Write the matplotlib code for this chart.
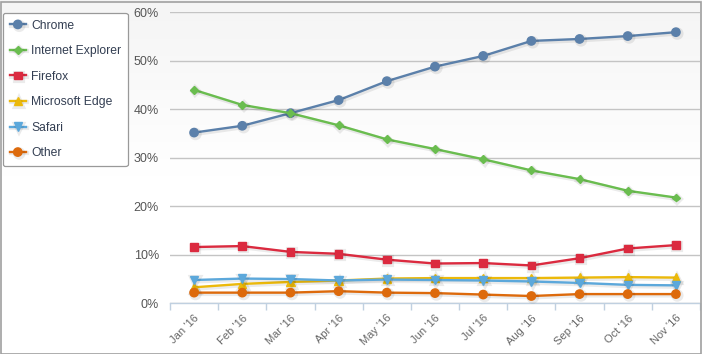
import matplotlib
matplotlib.use("Agg")
import matplotlib.pyplot as plt
import matplotlib.patheffects as pe
import numpy as np
from matplotlib.patches import Rectangle

plt.rcParams["font.family"] = ["Liberation Sans", "DejaVu Sans"]

# data
months = ["Jan '16", "Feb '16", "Mar '16", "Apr '16", "May '16", "Jun '16",
          "Jul '16", "Aug '16", "Sep '16", "Oct '16", "Nov '16"]
chrome = [35.2, 36.6, 39.2, 41.9, 45.8, 48.8, 51.0, 54.1, 54.5, 55.1, 55.9]
ie = [44.0, 40.9, 39.2, 36.7, 33.8, 31.8, 29.7, 27.4, 25.6, 23.2, 21.8]
firefox = [11.6, 11.8, 10.6, 10.2, 9.0, 8.2, 8.3, 7.8, 9.3, 11.3, 12.0]
edge = [3.3, 4.0, 4.4, 4.7, 5.1, 5.2, 5.2, 5.2, 5.3, 5.4, 5.3]
safari = [4.8, 5.1, 5.0, 4.7, 4.9, 4.8, 4.7, 4.5, 4.2, 3.8, 3.7]
other = [2.2, 2.2, 2.2, 2.5, 2.2, 2.1, 1.8, 1.5, 1.9, 1.9, 1.9]

series = [
    ("Chrome", chrome, "#5b80aa", "o", 6.0),
    ("Internet Explorer", ie, "#6abd4f", "D", 4.0),
    ("Firefox", firefox, "#db2a3f", "s", 5.5),
    ("Microsoft Edge", edge, "#ecb90a", "^", 6.0),
    ("Safari", safari, "#5ca8db", "v", 6.0),
    ("Other", other, "#dd6a0c", "o", 6.0),
]

fig = plt.figure(figsize=(7.02, 3.54), dpi=100)

# light gradient background at the top of the chart
bg = fig.add_axes([0, 0, 1, 1], zorder=-5)
grad = np.concatenate([np.linspace(0.96, 1.0, 128), np.ones(128)]).reshape(-1, 1)
bg.imshow(np.dstack([grad, grad, grad]), aspect="auto", extent=[0, 1, 0, 1], origin="upper")
bg.set_axis_off()
fig.patches.append(Rectangle((0.5 / 702, 0.5 / 354), 1 - 2 / 702, 1 - 2 / 354,
                             transform=fig.transFigure, fill=False,
                             edgecolor="#a0a0a0", linewidth=1.2, zorder=10))

ax = fig.add_axes([170 / 702, 1 - 303.3 / 354, 530 / 702, 291 / 354])
ax.set_facecolor("none")
x = np.arange(len(months))

shadow = [pe.SimpleLineShadow(offset=(1, -1), shadow_color="#000000", alpha=0.08, linewidth=3), pe.Normal()]
for name, vals, color, mk, ms in series:
    ax.plot(x, vals, color=color, linewidth=1.7, marker=mk, markersize=ms,
            label=name, path_effects=shadow, clip_on=False, zorder=3)

ax.set_xlim(-0.5, len(months) - 0.5)
ax.set_ylim(0, 60)
ax.set_yticks(range(0, 61, 10))
ax.set_yticklabels([f"{v}%" for v in range(0, 61, 10)], fontsize=9, color="#555555")
ax.set_xticks(x)
ax.set_xticklabels(months, rotation=45, ha="right", rotation_mode="anchor",
                   fontsize=8, color="#666666")
ax.set_xticks(np.arange(-0.5, len(months), 1.0), minor=True)
ax.tick_params(axis="x", which="major", length=0, pad=7)
ax.tick_params(axis="x", which="minor", length=5, color="#c0d0e0", width=1)
ax.tick_params(axis="y", length=0, pad=8)
ax.grid(axis="y", color="#c4c4c4", linewidth=1)
ax.set_axisbelow(True)
for s in ["top", "right", "left"]:
    ax.spines[s].set_visible(False)
ax.spines["bottom"].set_color("#c0d0e0")
ax.spines["bottom"].set_linewidth(1)

leg = fig.legend(loc="upper left", bbox_to_anchor=(3 / 702, 1 - 13 / 354),
                 fontsize=8.7, frameon=True, fancybox=True, handlelength=1.35,
                 handletextpad=0.42, labelspacing=1.12, borderpad=0.55,
                 borderaxespad=0, framealpha=1, edgecolor="#999999")
leg.get_frame().set_linewidth(0.9)
for t in leg.get_texts():
    t.set_color("#333e52")

fig.savefig("out.png", dpi=100)
